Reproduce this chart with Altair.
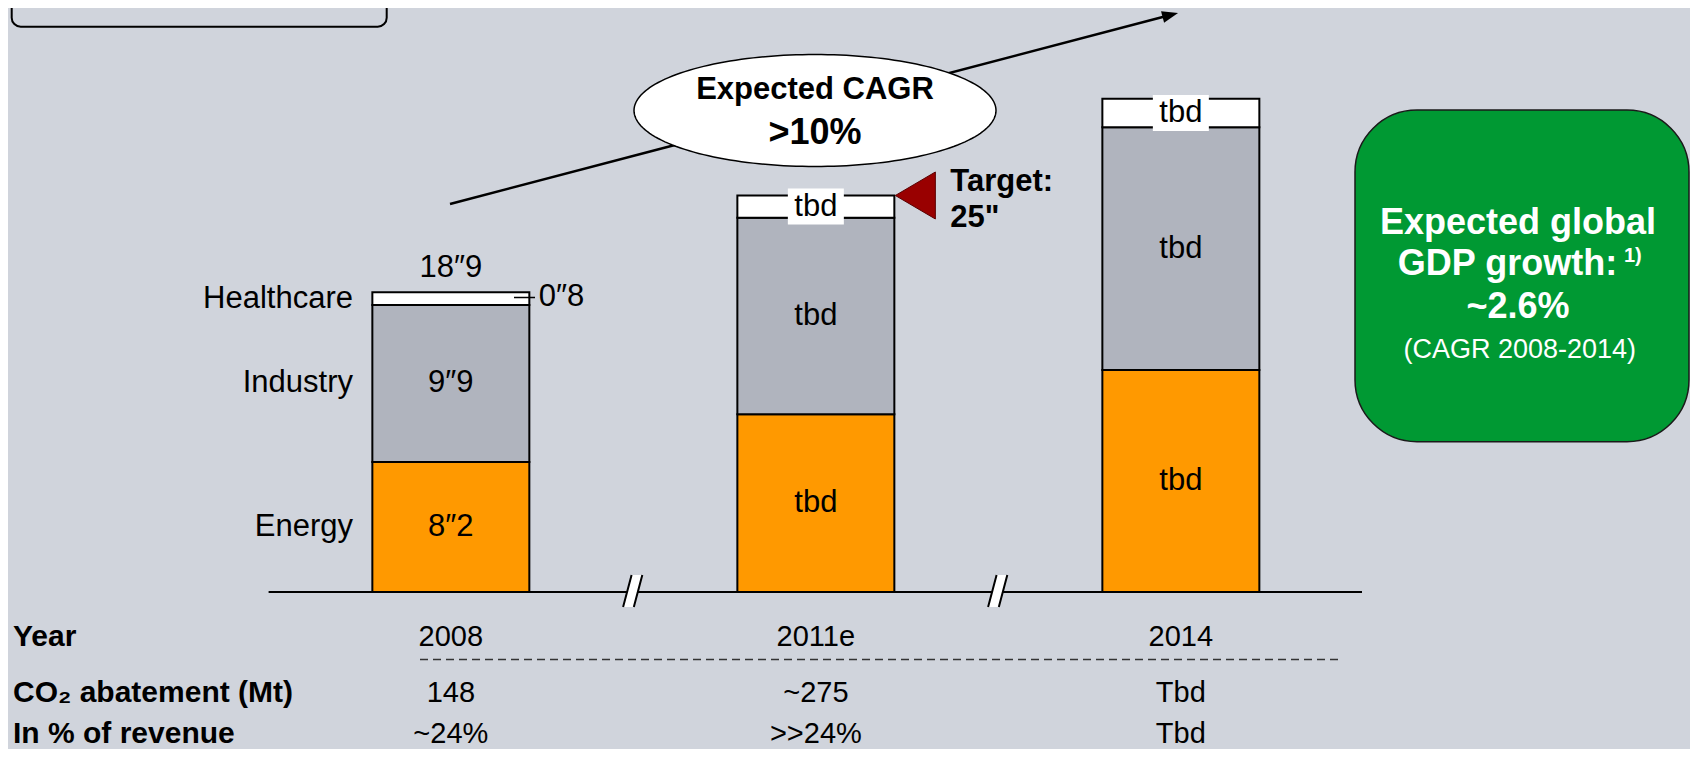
import math
import altair as alt
import pandas as pd

# ---------------- data ----------------
years = ["2008", "2011e", "2014"]
segments = ["Energy", "Industry", "Healthcare"]
energy = [8.2, 11.2, 14.0]
industry = [9.9, 12.4, 15.3]
healthcare = [0.8, 1.4, 1.8]
energy_labels = ["8″2", "tbd", "tbd"]
industry_labels = ["9″9", "tbd", "tbd"]
healthcare_labels = ["0″8", "tbd", "tbd"]
total_labels = ["18″9", "", ""]
target_year = ["2011e"]
target_value = [25]
target_text = ["Target:", '25"']
co2_abatement = ["148", "~275", "Tbd"]
revenue_share = ["~24%", ">>24%", "Tbd"]
row_labels = ["Year", "CO₂ abatement (Mt)", "In % of revenue"]
cagr_text = ["Expected CAGR", ">10%"]
gdp_text = ["Expected global", "GDP growth:", "1)", "~2.6%", "(CAGR 2008-2014)"]

# ---------------- styles ----------------
FONT = "Liberation Sans"
BG = "#D0D4DC"
ORANGE = "#FF9900"
GRAY = "#B0B4BE"
WHITE = "#FFFFFF"
GREEN = "#009933"
DARKRED = "#990000"
W, H = 1682, 741

rows = []
for i, yr in enumerate(years):
    start = 0.0
    for seg, vals, labs in zip(segments, [energy, industry, healthcare],
                               [energy_labels, industry_labels, healthcare_labels]):
        v = vals[i]
        rows.append(dict(year=yr, segment=seg, start=start, end=start + v,
                         mid=start + v / 2, label=labs[i]))
        start += v
seg_df = pd.DataFrame(rows)
tot_df = pd.DataFrame({"year": years,
                       "total": [e + n + h for e, n, h in zip(energy, industry, healthcare)],
                       "label": total_labels})
tgt_df = pd.DataFrame({"year": target_year, "value": target_value})
tab_df = pd.DataFrame({"year": years, "co2": co2_abatement, "rev": revenue_share})
one = pd.DataFrame({"k": [0]})

xscale = alt.Scale(domain=years, range=[364.35, 1251.35], paddingInner=0.5699, paddingOuter=0)
yscale = alt.Scale(domain=[-9.899, 36.822], nice=False, zero=False)


def X():
    return alt.X("year:N", scale=xscale, axis=None)


def Y(f):
    return alt.Y(f, type="quantitative", scale=yscale, axis=None)


# ---------------- decorations ----------------
top_box = alt.Chart(one).mark_rect(fill=BG, fillOpacity=0, stroke="black", strokeWidth=2,
                                   cornerRadius=9).encode(
    x=alt.value(3.7), x2=alt.value(378.7), y=alt.value(-30), y2=alt.value(18.7))

arrow_line = alt.Chart(one).mark_rule(color="black", strokeWidth=2.5).encode(
    x=alt.value(442), y=alt.value(196), x2=alt.value(1162.3), y2=alt.value(7))
arrow_head = alt.Chart(one).mark_point(shape="M1,0 L-1,-0.75 L-1,0.75 Z", size=256, filled=True,
                                       color="black", opacity=1, angle=345.34).encode(
    x=alt.value(1162.3), y=alt.value(7))

# ellipse callout (pixel geometry of the bubble)
ECX, ECY, ERX, ERY = 807.0, 102.5, 181.0, 56.0
n_e = 90
ell_fill_df = pd.DataFrame({
    "px": [ECX - ERX * math.cos(math.pi * i / n_e) for i in range(n_e + 1)],
    "top": [ECY - ERY * math.sin(math.pi * i / n_e) for i in range(n_e + 1)],
    "bot": [ECY + ERY * math.sin(math.pi * i / n_e) for i in range(n_e + 1)],
})
ell_line_df = pd.DataFrame({
    "px": [ECX + ERX * math.cos(2 * math.pi * i / 180) for i in range(181)],
    "py": [ECY + ERY * math.sin(2 * math.pi * i / 180) for i in range(181)],
    "o": list(range(181)),
})
ell_fill = alt.Chart(ell_fill_df).mark_area(color=WHITE, opacity=1).encode(
    x=alt.X("px:Q", scale=None), y=alt.Y("top:Q", scale=None), y2="bot:Q")
ell_line = alt.Chart(ell_line_df).mark_line(color="black", strokeWidth=1.5).encode(
    x=alt.X("px:Q", scale=None), y=alt.Y("py:Q", scale=None), order="o:Q")
cagr1 = alt.Chart(one).mark_text(font=FONT, fontSize=31, fontWeight="bold", color="black").encode(
    x=alt.value(807), y=alt.value(81.5), text=alt.value(cagr_text[0]))
cagr2 = alt.Chart(one).mark_text(font=FONT, fontSize=36, fontWeight="bold", color="black").encode(
    x=alt.value(807), y=alt.value(125), text=alt.value(cagr_text[1]))

green_box = alt.Chart(one).mark_rect(fill=GREEN, stroke="#1a1a1a", strokeWidth=1.5,
                                     cornerRadius=62).encode(
    x=alt.value(1347), x2=alt.value(1681), y=alt.value(102), y2=alt.value(433.7))
g1 = alt.Chart(one).mark_text(font=FONT, fontSize=36, fontWeight="bold", color="white").encode(
    x=alt.value(1510), y=alt.value(215), text=alt.value(gdp_text[0]))
g2 = alt.Chart(one).mark_text(font=FONT, fontSize=36, fontWeight="bold", color="white").encode(
    x=alt.value(1499.5), y=alt.value(256), text=alt.value(gdp_text[1]))
g2s = alt.Chart(one).mark_text(font=FONT, fontSize=20, fontWeight="bold", color="white",
                               align="left").encode(
    x=alt.value(1616), y=alt.value(248), text=alt.value(gdp_text[2]))
g3 = alt.Chart(one).mark_text(font=FONT, fontSize=36, fontWeight="bold", color="white").encode(
    x=alt.value(1510), y=alt.value(299), text=alt.value(gdp_text[3]))
g4 = alt.Chart(one).mark_text(font=FONT, fontSize=27, color="white").encode(
    x=alt.value(1511.7), y=alt.value(342), text=alt.value(gdp_text[4]))

baseline = alt.Chart(one).mark_rule(color="black", strokeWidth=2).encode(
    x=alt.value(260.6), x2=alt.value(1354), y=alt.value(584))
brk_fill = alt.Chart(pd.DataFrame({"px": [624.7, 989.7]})).mark_point(
    shape="M-0.6,1 L0.07,1 L0.6,-1 L-0.07,-1 Z", size=1024, filled=True, color=WHITE,
    opacity=1).encode(x=alt.X("px:Q", scale=None), y=alt.value(583))
brk_line = alt.Chart(pd.DataFrame({"px": [624.7, 989.7]})).mark_point(
    shape="M-0.6,1 L-0.07,-1 M0.07,1 L0.6,-1", size=1024, filled=False, color="black",
    strokeWidth=2, opacity=1).encode(x=alt.X("px:Q", scale=None), y=alt.value(583))

dash = alt.Chart(one).mark_rule(color="#333333", strokeWidth=1.5, strokeDash=[8, 5]).encode(
    x=alt.value(412), x2=alt.value(1333), y=alt.value(651.5))

# ---------------- bars ----------------
bars = alt.Chart(seg_df).mark_bar(stroke="black", strokeWidth=2).encode(
    x=X(), y=Y("start"), y2="end",
    color=alt.Color("segment:N", scale=alt.Scale(domain=segments, range=[ORANGE, GRAY, WHITE]),
                    legend=None))

hc_tbd = seg_df[(seg_df.segment == "Healthcare") & (seg_df.year != "2008")]
inner = seg_df[~((seg_df.segment == "Healthcare") & (seg_df.year == "2008"))]
y2008 = seg_df[seg_df.year == "2008"]
hc2008 = y2008[y2008.segment == "Healthcare"]

tbd_box = alt.Chart(hc_tbd).mark_tick(orient="horizontal", size=56, thickness=36, color=WHITE,
                                      opacity=1).encode(x=X(), y=Y("mid"))
seg_text = alt.Chart(inner).mark_text(font=FONT, fontSize=31, color="black").encode(
    x=X(), y=Y("mid"), text="label:N")
cat_text = alt.Chart(y2008).mark_text(font=FONT, fontSize=31, color="black", align="right",
                                      dx=-97.85).encode(
    x=X(), y=Y("mid"), text="segment:N")
hc_text = alt.Chart(hc2008).mark_text(font=FONT, fontSize=31, color="black", align="left",
                                      dx=88, dy=-2).encode(
    x=X(), y=Y("mid"), text="label:N")
leader = alt.Chart(one).mark_rule(color="black", strokeWidth=1.5).encode(
    x=alt.value(506), x2=alt.value(527), y=alt.value(289.5))
tot_text = alt.Chart(tot_df).mark_text(font=FONT, fontSize=31, color="black", dy=-24).encode(
    x=X(), y=Y("total"), text="label:N")

tgt_tri = alt.Chart(tgt_df).mark_point(shape="M-1,0 L1,-1.175 L1,1.175 Z", size=1600, filled=True,
                                       color=DARKRED, stroke="#5a0000", strokeWidth=1, opacity=1,
                                       xOffset=99.5).encode(x=X(), y=Y("value"))
tgt_t1 = alt.Chart(tgt_df).mark_text(font=FONT, fontSize=31, fontWeight="bold", color="black",
                                     align="left", dx=134.5, dy=-13.8).encode(
    x=X(), y=Y("value"), text=alt.value(target_text[0]))
tgt_t2 = alt.Chart(tgt_df).mark_text(font=FONT, fontSize=31, fontWeight="bold", color="black",
                                     align="left", dx=134.5, dy=22.8).encode(
    x=X(), y=Y("value"), text=alt.value(target_text[1]))

# ---------------- table ----------------
row_y = [628.8, 685, 726]
row_txt = [alt.Chart(one).mark_text(font=FONT, fontSize=30, fontWeight="bold", color="black",
                                    align="left").encode(
    x=alt.value(5), y=alt.value(yy), text=alt.value(t)) for t, yy in zip(row_labels, row_y)]
yr_txt = alt.Chart(tab_df).mark_text(font=FONT, fontSize=29, color="black").encode(
    x=X(), y=alt.value(row_y[0]), text="year:N")
co2_txt = alt.Chart(tab_df).mark_text(font=FONT, fontSize=29, color="black").encode(
    x=X(), y=alt.value(row_y[1]), text="co2:N")
rev_txt = alt.Chart(tab_df).mark_text(font=FONT, fontSize=29, color="black").encode(
    x=X(), y=alt.value(row_y[2]), text="rev:N")

chart = alt.layer(
    top_box, arrow_line, arrow_head, ell_fill, ell_line, cagr1, cagr2,
    green_box, g1, g2, g2s, g3, g4,
    bars, baseline, brk_fill, brk_line, dash,
    tbd_box, seg_text, cat_text, leader, hc_text, tot_text,
    tgt_tri, tgt_t1, tgt_t2,
    *row_txt, yr_txt, co2_txt, rev_txt,
).properties(
    width=W, height=H, padding=0, background=BG,
    autosize=alt.AutoSizeParams(type="none"),
).configure_view(stroke=None)

chart.save("out.html", embed_options={"renderer": "svg", "actions": False})
